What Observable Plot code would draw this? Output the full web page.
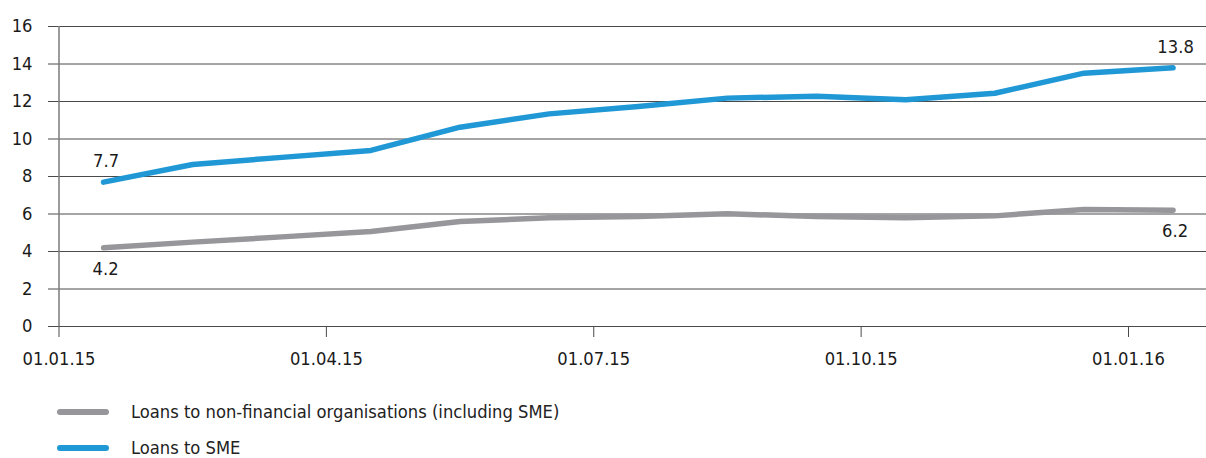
<!DOCTYPE html>
<html>
<head>
<meta charset="utf-8">
<script src="https://cdn.jsdelivr.net/npm/d3@7"></script>
<script src="https://cdn.jsdelivr.net/npm/@observablehq/plot@0.6"></script>
<style>
  html, body { margin: 0; padding: 0; background: #fff; }
  body { width: 1206px; height: 458px; overflow: hidden; font-family: "DejaVu Sans Condensed", "Liberation Sans", sans-serif; color: #222; }
  #chart svg { display: block; }
  .legend { position: relative; height: 68px; }
  .row { position: absolute; left: 0; display: flex; align-items: center; height: 14px; line-height: 14px; font-size: 18.2px; white-space: nowrap; overflow: visible; }
  .swatch { display: inline-block; width: 52px; height: 6px; border-radius: 3px; margin-left: 57px; margin-right: 22px; }
</style>
</head>
<body>
<div id="chart"></div>
<div class="legend" id="legend"></div>
<script>
// Monthly observations, Jan 2015 – Jan 2016 (bn), plotted at mid-month
const months = ["Jan 15","Feb 15","Mar 15","Apr 15","May 15","Jun 15","Jul 15","Aug 15","Sep 15","Oct 15","Nov 15","Dec 15","Jan 16"];
const loansNonFinancial = [4.2, 4.5, 4.78, 5.07, 5.6, 5.8, 5.87, 6.01, 5.87, 5.8, 5.9, 6.24, 6.2];
const loansSME = [7.7, 8.64, 9.02, 9.39, 10.63, 11.34, 11.73, 12.18, 12.28, 12.09, 12.44, 13.51, 13.8];

// Quarter-start ticks, measured in months from 01.01.15
const tickMonths = [0, 3, 6, 9, 12];
const tickLabels = ["01.01.15", "01.04.15", "01.07.15", "01.10.15", "01.01.16"];
const yTicks = [0, 2, 4, 6, 8, 10, 12, 14, 16];

const seriesNames = ["Loans to non-financial organisations (including SME)", "Loans to SME"];
const seriesColors = ["#96969b", "#1f98d5"];

const rows = [];
months.forEach((m, i) => {
  rows.push({month: i + 0.5, value: loansNonFinancial[i], series: seriesNames[0]});
  rows.push({month: i + 0.5, value: loansSME[i], series: seriesNames[1]});
});

const last = months.length - 1;
const endLabels = [
  {month: 0.5, value: loansSME[0], above: true},
  {month: last + 0.5, value: loansSME[last], above: true},
  {month: 0.5, value: loansNonFinancial[0], above: false},
  {month: last + 0.5, value: loansNonFinancial[last], above: false}
];

const font = "\"DejaVu Sans Condensed\", \"Liberation Sans\", sans-serif";
const fs = 18.2;

const chart = Plot.plot({
  width: 1206,
  height: 390,
  marginLeft: 58.5,
  marginRight: 0,
  marginTop: 26,
  marginBottom: 64,
  style: {fontFamily: font, fontSize: fs + "px", color: "#222", background: "#fff"},
  x: {type: "linear", domain: [0, 12.875], label: null},
  y: {domain: [0, 16], label: null},
  color: {domain: seriesNames, range: seriesColors},
  marks: [
    Plot.gridY(yTicks, {stroke: "#4a4a4a", strokeOpacity: 1, strokeWidth: 1}),
    Plot.axisY(yTicks, {tickSize: 10.5, tickPadding: 16, stroke: "#4a4a4a", fontSize: fs, fill: "#1a1a1a", label: null}),
    Plot.axisX(tickMonths, {
      tickSize: 11, tickPadding: 15, stroke: "#4a4a4a", fontSize: fs, fill: "#1a1a1a", label: null,
      tickFormat: d => tickLabels[tickMonths.indexOf(d)]
    }),
    Plot.ruleX([0], {stroke: "#7a7a7a", strokeWidth: 1.5}),
    Plot.line(rows, {
      x: "month", y: "value", z: "series", stroke: "series",
      strokeWidth: 5.5, strokeLinecap: "round", strokeLinejoin: "round"
    }),
    Plot.text(endLabels.filter(d => d.above), {
      x: "month", y: "value", text: d => d.value.toFixed(1),
      dx: 2.5, dy: -21, fontSize: fs, fill: "#1a1a1a"
    }),
    Plot.text(endLabels.filter(d => !d.above), {
      x: "month", y: "value", text: d => d.value.toFixed(1),
      dx: 2, dy: 21, fontSize: fs, fill: "#1a1a1a"
    })
  ]
});
document.getElementById("chart").append(chart);

const legend = document.getElementById("legend");
seriesNames.forEach((name, i) => {
  const row = document.createElement("div");
  row.className = "row";
  row.style.top = (15 + i * 36) + "px";
  const sw = document.createElement("span");
  sw.className = "swatch";
  sw.style.background = seriesColors[i];
  const label = document.createElement("span");
  label.textContent = name;
  row.append(sw, label);
  legend.append(row);
});
</script>
</body>
</html>
